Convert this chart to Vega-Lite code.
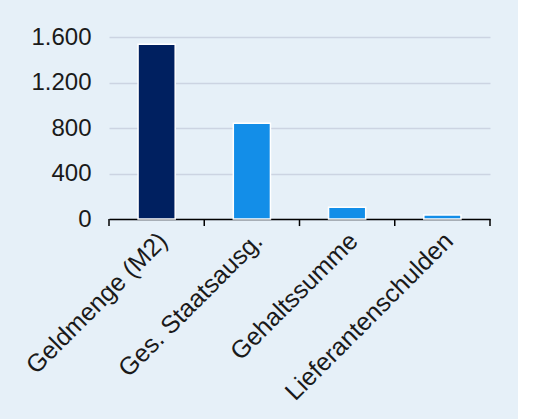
{
  "$schema": "https://vega.github.io/schema/vega-lite/v6.json",
  "autosize": {"type": "none"},
  "width": 381,
  "height": 182,
  "padding": {"left": 109, "top": 37, "right": 28, "bottom": 200},
  "background": "#E6F0F8",
  "config": {
    "view": {"stroke": null},
    "font": "Liberation Sans",
    "axis": {"labelFont": "Liberation Sans", "labelColor": "#1a1a1a"}
  },
  "data": {
    "values": [
      {"kategorie": "Geldmenge (M2)", "wert": 1536},
      {"kategorie": "Ges. Staatsausg.", "wert": 842},
      {"kategorie": "Gehaltssumme", "wert": 103},
      {"kategorie": "Lieferantenschulden", "wert": 35}
    ]
  },
  "encoding": {
    "x": {
      "field": "kategorie",
      "type": "nominal",
      "sort": null,
      "title": null,
      "scale": {"paddingInner": 0, "paddingOuter": 0},
      "axis": {
        "labelAngle": -45,
        "labelFontSize": 25,
        "labelLimit": 0,
        "labelPadding": 9,
        "labelOffset": -2,
        "ticks": false,
        "domainColor": "#000000",
        "domainWidth": 1.5,
        "grid": false
      }
    }
  },
  "layer": [
    {
      "mark": {"type": "bar", "stroke": "white", "strokeWidth": 1.5, "width": {"band": 0.39}},
      "encoding": {
        "y": {
          "field": "wert",
          "type": "quantitative",
          "title": null,
          "scale": {"domain": [0, 1600], "nice": false},
          "axis": {
            "values": [0, 400, 800, 1200, 1600],
            "labelExpr": "replace(format(datum.value, ','), ',', '.')",
            "labelFontSize": 24,
            "labelPadding": 18,
            "ticks": false,
            "domain": false,
            "gridColor": "#CCD4E2",
            "gridWidth": 1.5
          }
        },
        "color": {
          "condition": {"test": "datum.kategorie === 'Geldmenge (M2)'", "value": "#002060"},
          "value": "#138EE8"
        }
      }
    },
    {
      "mark": {"type": "rule", "color": "#000000", "strokeWidth": 1.5},
      "encoding": {
        "x": {"field": "kategorie", "type": "nominal", "sort": null, "bandPosition": 0},
        "y": {"datum": 0, "type": "quantitative"},
        "y2": {"datum": -62}
      }
    },
    {
      "data": {"values": [{"kategorie": "Lieferantenschulden"}]},
      "mark": {"type": "rule", "color": "#000000", "strokeWidth": 1.5},
      "encoding": {
        "x": {"field": "kategorie", "type": "nominal", "sort": null, "bandPosition": 1},
        "y": {"datum": 0, "type": "quantitative"},
        "y2": {"datum": -62}
      }
    }
  ]
}
